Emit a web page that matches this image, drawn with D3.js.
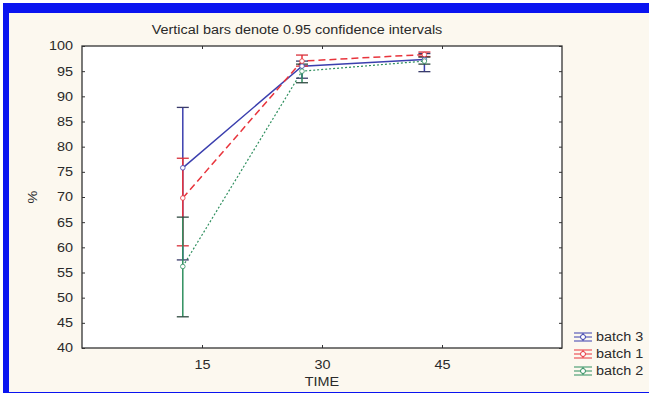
<!DOCTYPE html>
<html>
<head>
<meta charset="utf-8">
<script src="https://cdn.jsdelivr.net/npm/d3@7"></script>
<style>
body { margin: 0; background: #fff; }
text { font-family: "Liberation Sans", Arial, sans-serif; fill: #2a2a2a; }
</style>
</head>
<body>
<div id="chart-area"></div>
<script>
let width = 649,
height = 396;

// data
let timeTicks = [15, 30, 45];
let xPos = [12.6, 27.5, 42.8];
let yTicks = [40, 45, 50, 55, 60, 65, 70, 75, 80, 85, 90, 95, 100];

let batchNames = ["batch 3", "batch 1", "batch 2"];
let batch3Mean = [75.8, 96.0, 97.3];
let batch3Lo = [57.5, 93.6, 94.9];
let batch3Hi = [87.8, 97.0, 98.5];
let batch1Mean = [69.8, 97.0, 98.3];
let batch1Lo = [60.3, 96.0, 97.9];
let batch1Hi = [77.7, 98.2, 98.8];
let batch2Mean = [56.2, 95.0, 97.0];
let batch2Lo = [46.2, 92.7, 96.4];
let batch2Hi = [66.0, 96.4, 97.8];

let colors = ["#3b3fae", "#e8343c", "#2f8f5f"];
let capColors = ["#3a3c6a", "#d8303a", "#2f4a40"];
let dashes = [null, "7,4", "2,2"];

let series = [
	{name: batchNames[0], mean: batch3Mean, lo: batch3Lo, hi: batch3Hi},
	{name: batchNames[1], mean: batch1Mean, lo: batch1Lo, hi: batch1Hi},
	{name: batchNames[2], mean: batch2Mean, lo: batch2Lo, hi: batch2Hi}
];

let svg = d3.select("#chart-area").append("svg")
	.attr("width", width)
	.attr("height", height);

// frame
svg.append("rect").attr("x", 0).attr("y", 0).attr("width", width).attr("height", height).attr("fill", "#fff");
svg.append("rect").attr("x", 3).attr("y", 3).attr("width", width).attr("height", 390).attr("fill", "#0a14f0");
svg.append("rect").attr("x", 9).attr("y", 13).attr("width", width).attr("height", 379).attr("fill", "#fcf8ef");

let pL = 82, pR = 562, pT = 46, pB = 348;

let x = d3.scaleLinear().domain([0, 60]).range([pL, pR]);
let y = d3.scaleLinear().domain([40, 100]).range([pB, pT]);

svg.append("rect")
	.attr("x", pL).attr("y", pT)
	.attr("width", pR - pL).attr("height", pB - pT)
	.attr("fill", "#fff");

// axes, ticks inward
let fmt = d3.format("d");
let gl = svg.append("g").attr("transform", "translate(" + pL + ",0)")
	.call(d3.axisLeft(y).tickValues(yTicks).tickSize(-3).tickPadding(9).tickFormat(fmt));
let gr = svg.append("g").attr("transform", "translate(" + pR + ",0)")
	.call(d3.axisRight(y).tickValues(yTicks).tickSize(-3).tickFormat(""));
let gb = svg.append("g").attr("transform", "translate(0," + pB + ")")
	.call(d3.axisBottom(x).tickValues(timeTicks).tickSize(-3).tickPadding(12).tickFormat(fmt));
let gt = svg.append("g").attr("transform", "translate(0," + pT + ")")
	.call(d3.axisTop(x).tickValues(timeTicks).tickSize(-3).tickFormat(""));

[gl, gr, gb, gt].forEach(g => {
	g.select(".domain").remove();
	g.selectAll("line").attr("stroke", "#333");
	g.selectAll("text").style("font-size", "12px").attr("fill", "#2a2a2a")
		.style("font-family", "'Liberation Sans', Arial, sans-serif");
});

svg.append("rect")
	.attr("x", pL).attr("y", pT)
	.attr("width", pR - pL).attr("height", pB - pT)
	.attr("fill", "none").attr("stroke", "#333").attr("stroke-width", 1.3);

// lines
let line = d3.line().x((d, i) => x(xPos[i])).y(d => y(d));

series.forEach((s, k) => {
	svg.append("path")
		.attr("d", line(s.mean))
		.attr("fill", "none")
		.attr("stroke", colors[k])
		.attr("stroke-width", k == 2 ? 1.2 : 1.5)
		.attr("stroke-dasharray", dashes[k]);
});

// error bars
series.forEach((s, k) => {
	let g = svg.append("g");
	s.mean.forEach((m, i) => {
		let cx = x(xPos[i]);
		g.append("line")
			.attr("x1", cx).attr("x2", cx)
			.attr("y1", y(s.lo[i])).attr("y2", y(s.hi[i]))
			.attr("stroke", colors[k]).attr("stroke-width", 1.5);
		[s.lo[i], s.hi[i]].forEach(v => {
			g.append("line")
				.attr("x1", cx - 6).attr("x2", cx + 6)
				.attr("y1", y(v)).attr("y2", y(v))
				.attr("stroke", capColors[k]).attr("stroke-width", 1.3);
		});
	});
});

// markers
series.forEach((s, k) => {
	svg.selectAll(".m" + k)
		.data(s.mean)
		.enter().append("circle")
		.attr("class", "m" + k)
		.attr("cx", (d, i) => x(xPos[i]))
		.attr("cy", d => y(d))
		.attr("r", 2.3)
		.attr("fill", "#fff")
		.attr("stroke", colors[k])
		.attr("stroke-width", 0.8);
});

// titles
svg.append("text")
	.attr("x", 297).attr("y", 34)
	.attr("text-anchor", "middle")
	.style("font-size", "12px")
	.text("Vertical bars denote 0.95 confidence intervals");

svg.append("text")
	.attr("transform", "translate(37,197) rotate(-90)")
	.attr("text-anchor", "middle")
	.style("font-size", "12px")
	.text("%");

svg.append("text")
	.attr("x", 322).attr("y", 386)
	.attr("text-anchor", "middle")
	.style("font-size", "12px")
	.text("TIME");

// legend
let lg = svg.append("g");
series.forEach((s, k) => {
	let ly = 337 + k * 17;
	let cx = 583;
	[-4, 0, 4].forEach(dy => {
		lg.append("line")
			.attr("x1", cx - 9).attr("x2", cx + 9)
			.attr("y1", ly + dy).attr("y2", ly + dy)
			.attr("stroke", colors[k]).attr("stroke-width", 1);
	});
	lg.append("line")
		.attr("x1", cx).attr("x2", cx)
		.attr("y1", ly - 4).attr("y2", ly + 4)
		.attr("stroke", colors[k]).attr("stroke-width", 1);
	lg.append("circle")
		.attr("cx", cx).attr("cy", ly).attr("r", 2.5)
		.attr("fill", "#fff").attr("stroke", colors[k]);
	lg.append("text")
		.attr("x", 596).attr("y", ly + 4)
		.style("font-size", "12px")
		.text(s.name);
});

// the reference text looks stretched sideways
svg.selectAll("text").each(function() {
	let w = this.getComputedTextLength();
	if (w > 0) {
		d3.select(this).attr("textLength", w * 1.2).attr("lengthAdjust", "spacingAndGlyphs");
	}
});
</script>
</body>
</html>
